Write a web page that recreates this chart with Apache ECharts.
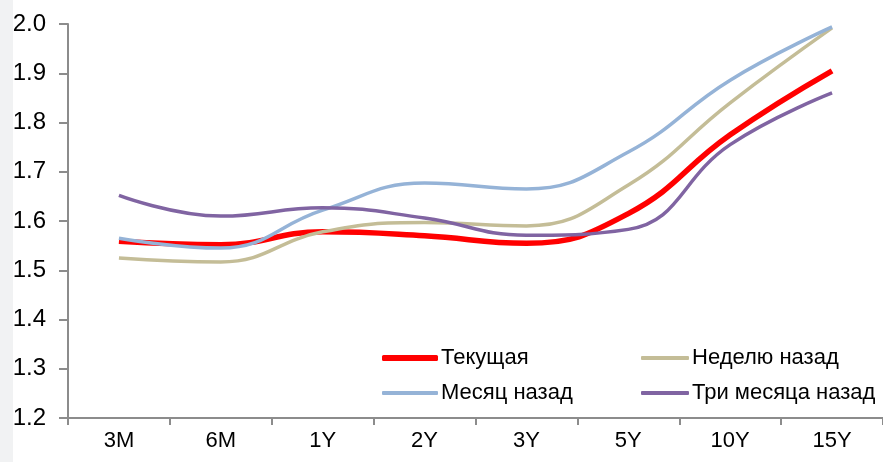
<!DOCTYPE html>
<html>
<head>
<meta charset="utf-8">
<script src="https://cdn.jsdelivr.net/npm/echarts@6/dist/echarts.min.js"></script>
<style>
  html, body { margin: 0; padding: 0; background: #fff; }
  #chart { width: 883px; height: 462px; }
</style>
</head>
<body>
<div id="chart"></div>
<script>
var categories = ['3M', '6M', '1Y', '2Y', '3Y', '5Y', '10Y', '15Y'];
var current = [1.559, 1.552, 1.578, 1.570, 1.555, 1.615, 1.775, 1.905];
var weekAgo = [1.525, 1.517, 1.578, 1.597, 1.590, 1.673, 1.840, 1.992];
var monthAgo = [1.565, 1.545, 1.622, 1.677, 1.665, 1.740, 1.886, 1.994];
var threeMonthsAgo = [1.652, 1.610, 1.627, 1.606, 1.571, 1.583, 1.755, 1.860];

var dom = document.getElementById('chart');
var myChart = echarts.init(dom);
var font = 'Liberation Sans, Arial, sans-serif';

function legendBox(name, left, top, w, h) {
  return {
    left: left, top: top,
    icon: 'roundRect',
    itemWidth: w, itemHeight: h,
    textStyle: { fontFamily: font, fontSize: 22, color: '#000', padding: [0, 0, 0, -2] },
    data: [name]
  };
}

var option = {
  animation: false,
  graphic: [
    {
      type: 'rect',
      left: 0, top: 0,
      shape: { width: 13, height: 462 },
      style: { fill: '#f1f2f3' },
      silent: true
    }
  ],
  legend: [
    legendBox('Текущая', 377, 342, 56, 6),
    legendBox('Неделю назад', 636, 342, 48, 4),
    legendBox('Месяц назад', 377, 377, 56, 4),
    legendBox('Три месяца назад', 636, 377, 48, 4)
  ],
  grid: { left: 68, right: 0, top: 24, bottom: 44 },
  xAxis: {
    type: 'category',
    data: categories,
    boundaryGap: true,
    axisLine: { lineStyle: { color: '#8c8c8c', width: 2 } },
    axisTick: { show: true, length: 7, lineStyle: { color: '#8c8c8c', width: 2 } },
    axisLabel: { fontFamily: font, fontSize: 22, color: '#000', margin: 12 }
  },
  yAxis: {
    type: 'value',
    min: 1.2, max: 2.0, interval: 0.1,
    splitLine: { show: false },
    axisLine: { show: true, lineStyle: { color: '#8c8c8c', width: 2 } },
    axisTick: { show: true, length: 9, lineStyle: { color: '#8c8c8c', width: 2 } },
    axisLabel: {
      fontFamily: font, fontSize: 24, color: '#000', margin: 22,
      formatter: function (v) { return v.toFixed(1); }
    }
  },
  series: [
    {
      name: 'Неделю назад', type: 'line', data: weekAgo, smooth: 0.45,
      symbol: 'none', z: 2,
      itemStyle: { color: '#c4bd97' },
      lineStyle: { color: '#c4bd97', width: 3.5 }
    },
    {
      name: 'Месяц назад', type: 'line', data: monthAgo, smooth: 0.45,
      symbol: 'none', z: 3,
      itemStyle: { color: '#95b3d7' },
      lineStyle: { color: '#95b3d7', width: 3.5 }
    },
    {
      name: 'Три месяца назад', type: 'line', data: threeMonthsAgo, smooth: 0.45,
      symbol: 'none', z: 4,
      itemStyle: { color: '#8064a2' },
      lineStyle: { color: '#8064a2', width: 3.5 }
    },
    {
      name: 'Текущая', type: 'line', data: current, smooth: 0.45,
      symbol: 'none', z: 1,
      itemStyle: { color: '#ff0000' },
      lineStyle: { color: '#ff0000', width: 5.5 }
    }
  ]
};

myChart.setOption(option);
window.addEventListener('resize', myChart.resize);
</script>
</body>
</html>
